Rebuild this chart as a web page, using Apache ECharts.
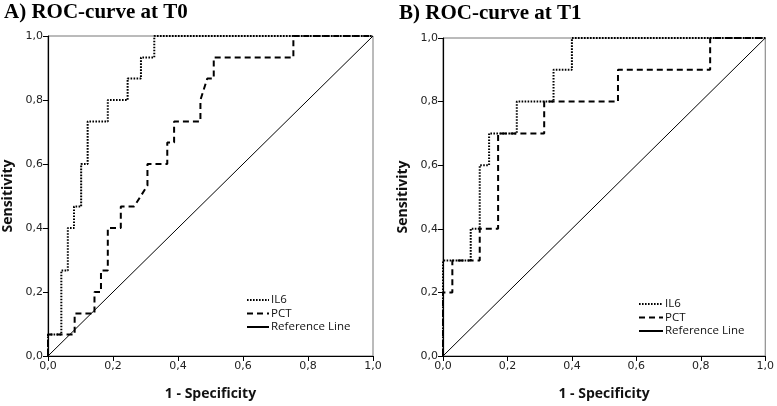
<!DOCTYPE html>
<html><head><meta charset="utf-8">
<script src="https://cdn.jsdelivr.net/npm/echarts@6/dist/echarts.min.js"></script>
<style>html,body{margin:0;padding:0;background:#fff}#c{width:777px;height:406px}</style>
</head><body><div id="c"></div>
<script>
// Data (x = 1 - Specificity, y = Sensitivity)
const t0_il6_x = [0,0,0.041,0.041,0.061,0.061,0.080,0.080,0.102,0.102,0.122,0.122,0.184,0.184,0.245,0.245,0.286,0.286,0.327,0.327,1];
const t0_il6_y = [0,0.067,0.067,0.267,0.267,0.4,0.4,0.467,0.467,0.6,0.6,0.733,0.733,0.8,0.8,0.867,0.867,0.933,0.933,1,1];
const t0_pct_x = [0,0,0.082,0.082,0.143,0.143,0.163,0.163,0.184,0.184,0.224,0.224,0.265,0.306,0.306,0.367,0.367,0.388,0.388,0.469,0.469,0.490,0.510,0.510,0.755,0.755,1];
const t0_pct_y = [0,0.067,0.067,0.133,0.133,0.2,0.2,0.267,0.267,0.4,0.4,0.467,0.467,0.533,0.6,0.6,0.667,0.667,0.733,0.733,0.8,0.867,0.867,0.933,0.933,1,1];
const t1_il6_x = [0,0,0.086,0.086,0.114,0.114,0.143,0.143,0.229,0.229,0.343,0.343,0.4,0.4,1];
const t1_il6_y = [0,0.3,0.3,0.4,0.4,0.6,0.6,0.7,0.7,0.8,0.8,0.9,0.9,1,1];
const t1_pct_x = [0,0,0.029,0.029,0.114,0.114,0.171,0.171,0.314,0.314,0.543,0.543,0.829,0.829,1];
const t1_pct_y = [0,0.2,0.2,0.3,0.3,0.4,0.4,0.7,0.7,0.8,0.8,0.9,0.9,1,1];
const ref_x = [0,1];
const ref_y = [0,1];
const seriesNames = ['IL6','PCT','Reference Line'];
const titles = ['A) ROC-curve at T0','B) ROC-curve at T1'];
const xName = '1 - Specificity';
const yName = 'Sensitivity';

function pairs(xs, ys){ return xs.map((x,i)=>[x, ys[i]]); }
const fmt = v => v.toFixed(1).replace('.', ',');

const tickFont = {fontFamily:'DejaVu Sans', fontSize:11, color:'#222'};
function xAxis(gi){ return {gridIndex:gi,type:'value',min:0,max:1,interval:0.2,
  name:xName,nameLocation:'middle',nameGap:31,
  nameTextStyle:{fontFamily:'Open Sans',fontWeight:'bold',fontSize:14,color:'#111'},
  axisLine:{lineStyle:{color:'#000',width:1.2}},axisTick:{length:5,lineStyle:{color:'#000'}},
  axisLabel:Object.assign({formatter:fmt,margin:5},tickFont),splitLine:{show:false}}; }
function yAxis(gi,gap){ return {gridIndex:gi,type:'value',min:0,max:1,interval:0.2,
  name:yName,nameLocation:'middle',nameGap:gap,
  nameTextStyle:{fontFamily:'Open Sans',fontWeight:'bold',fontSize:14,color:'#111'},
  axisLine:{lineStyle:{color:'#000',width:1.2}},axisTick:{length:5,lineStyle:{color:'#000'}},
  axisLabel:Object.assign({formatter:fmt,margin:5},tickFont),splitLine:{show:false}}; }

const styles = [
  {type:[1.6,1.4],width:2,color:'#000'},
  {type:[6,4],width:2,color:'#000'},
  {type:'solid',width:1,color:'#000'}
];
function mk(name, gi, data, st){
  return {name:name,type:'line',xAxisIndex:gi,yAxisIndex:gi,data:data,symbol:'none',
    lineStyle:st,itemStyle:{color:'#000'},silent:true,animation:false};
}
const legendCommon = {orient:'vertical',itemWidth:22,itemHeight:12,itemGap:1.5,
  itemStyle:{opacity:0},
  textStyle:{fontFamily:'Open Sans',fontSize:11.5,color:'#111',padding:[0,0,0,-3]},padding:0,selectedMode:false};
const chart = echarts.init(document.getElementById('c'));
chart.setOption({
  animation:false,
  backgroundColor:'#fff',
  title:[
    {text:titles[0],left:-1,top:-3,textStyle:{fontFamily:'Liberation Serif',fontWeight:'bold',fontSize:21,color:'#000'}},
    {text:titles[1],left:394,top:-2,textStyle:{fontFamily:'Liberation Serif',fontWeight:'bold',fontSize:21,color:'#000'}}
  ],
  grid:[
    {left:48,top:36,width:325,height:326,show:true,borderColor:'#777',borderWidth:1},
    {left:443,top:38,width:324,height:324,show:true,borderColor:'#777',borderWidth:1}
  ],
  xAxis:[xAxis(0),xAxis(1)],
  yAxis:[yAxis(0,33),yAxis(1,33)],
  legend:[
    Object.assign({data:seriesNames,left:246,top:294},legendCommon),
    Object.assign({data:seriesNames,left:638,top:298},legendCommon,{itemWidth:24})
  ],
  series:[
    mk(seriesNames[0],0,pairs(t0_il6_x,t0_il6_y),styles[0]),
    mk(seriesNames[1],0,pairs(t0_pct_x,t0_pct_y),styles[1]),
    mk(seriesNames[2],0,pairs(ref_x,ref_y),styles[2]),
    mk(seriesNames[0],1,pairs(t1_il6_x,t1_il6_y),styles[0]),
    mk(seriesNames[1],1,pairs(t1_pct_x,t1_pct_y),styles[1]),
    mk(seriesNames[2],1,pairs(ref_x,ref_y),styles[2])
  ]
});
</script></body></html>
